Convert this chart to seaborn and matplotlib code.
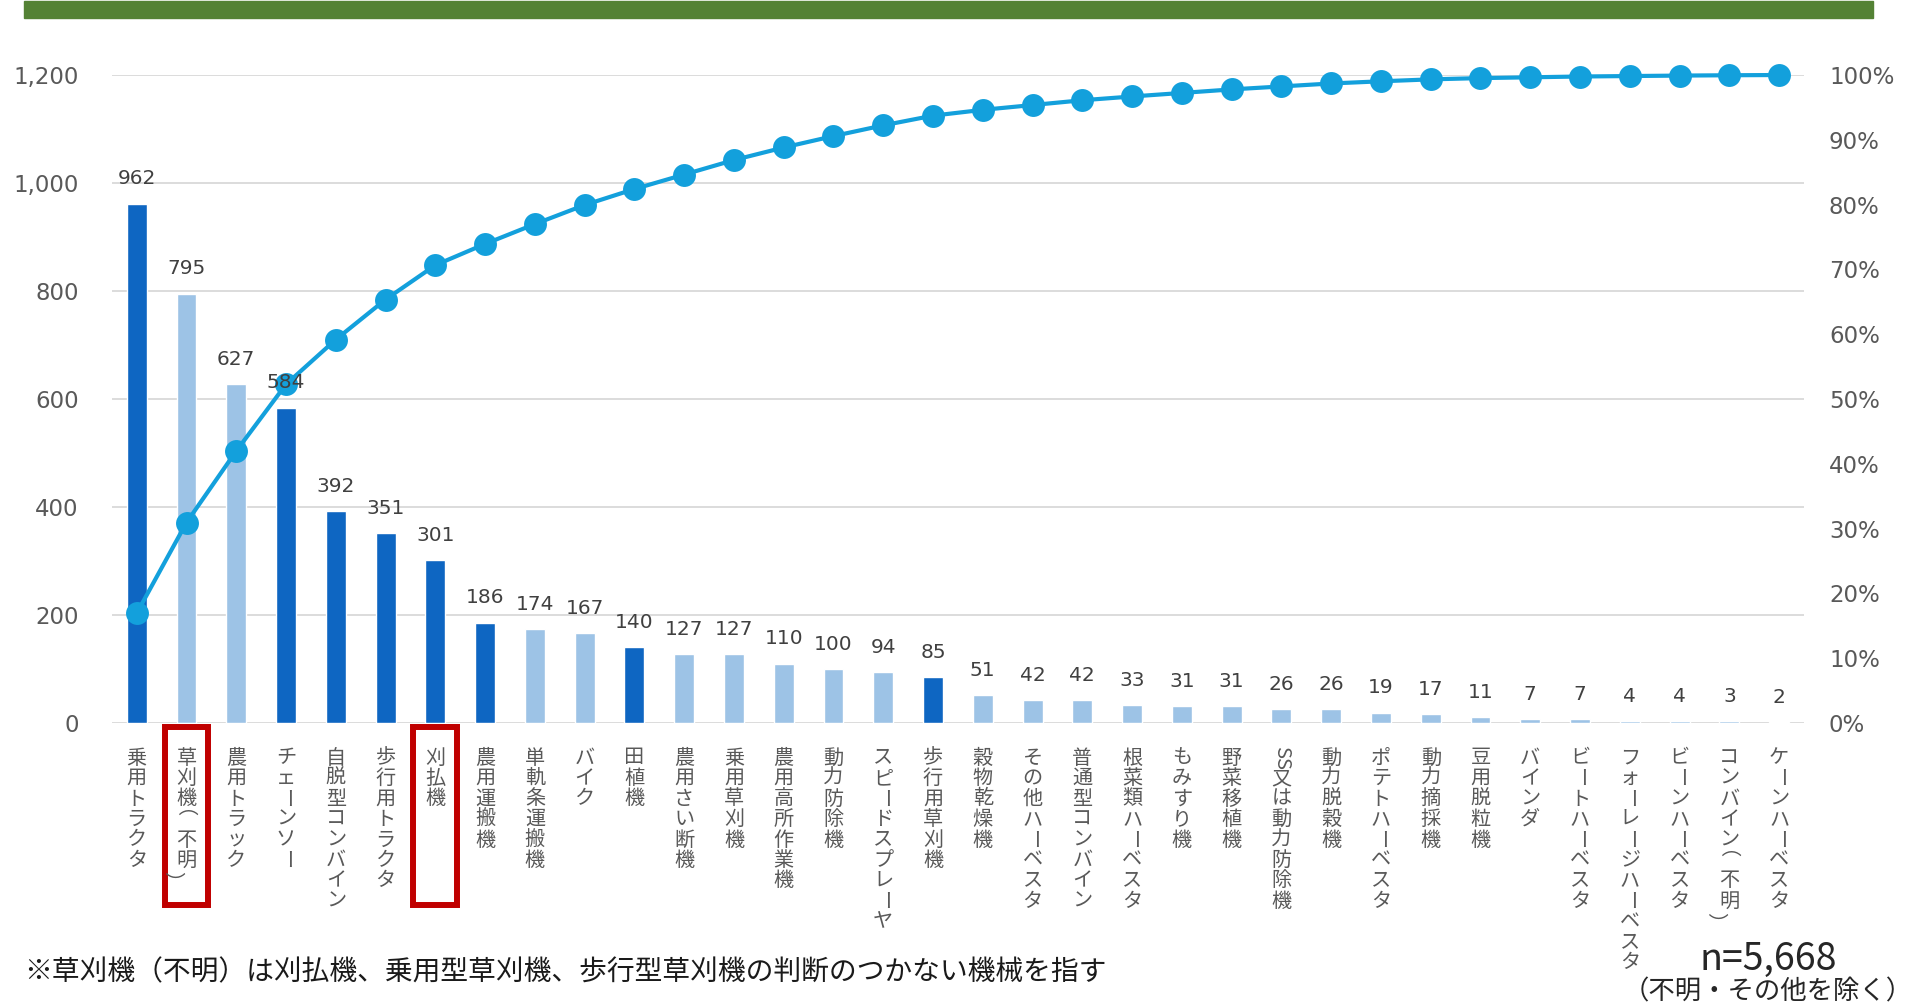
import numpy as np
import pandas as pd
import matplotlib
matplotlib.use('Agg')
import matplotlib.pyplot as plt
import matplotlib.transforms as mtransforms
from matplotlib.patches import Rectangle
import seaborn as sns

# Chart data
machines = ['乗用トラクタ', '草刈機（不明）', '農用トラック', 'チェーンソー', '自脱型コンバイン',
            '歩行用トラクタ', '刈払機', '農用運搬機', '単軌条運搬機', 'バイク', '田植機',
            '農用さい断機', '乗用草刈機', '農用高所作業機', '動力防除機', 'スピードスプレーヤ',
            '歩行用草刈機', '穀物乾燥機', 'その他ハーベスタ', '普通型コンバイン', '根菜類ハーベスタ',
            'もみすり機', '野菜移植機', 'SS又は動力防除機', '動力脱穀機', 'ポテトハーベスタ',
            '動力摘採機', '豆用脱粒機', 'バインダ', 'ビートハーベスタ', 'フォーレージハーベスタ',
            'ビーンハーベスタ', 'コンバイン（不明）', 'ケーンハーベスタ']
counts = [962, 795, 627, 584, 392, 351, 301, 186, 174, 167, 140, 127, 127, 110, 100, 94, 85,
          51, 42, 42, 33, 31, 31, 26, 26, 19, 17, 11, 7, 7, 4, 4, 3, 2]
dark_machines = ['乗用トラクタ', 'チェーンソー', '自脱型コンバイン', '歩行用トラクタ', '刈払機',
                 '農用運搬機', '田植機', '歩行用草刈機']
boxed_machines = ['草刈機（不明）', '刈払機']
count_ticks = [0, 200, 400, 600, 800, 1000, 1200]
pct_ticks = [0, 0.1, 0.2, 0.3, 0.4, 0.5, 0.6, 0.7, 0.8, 0.9, 1.0]
n_label = 'n=5,668'
n_note = '（不明・その他を除く）'
footnote = '※草刈機（不明）は刈払機、乗用型草刈機、歩行型草刈機の判断のつかない機械を指す'

sns.set_style('white')
plt.rcParams['font.family'] = ['DejaVu Sans', 'Noto Sans CJK JP']
JP = ['Noto Sans CJK JP', 'DejaVu Sans']

DARK = '#0E66C2'
LIGHT = '#9DC3E6'
LINE = '#13A0DC'
GRAY = '#595959'

df = pd.DataFrame({'machine': machines, 'count': counts})
df['pos'] = np.arange(len(df))
df['cum'] = df['count'].cumsum() / df['count'].sum()
palette = {m: (DARK if m in dark_machines else LIGHT) for m in machines}

fig = plt.figure(figsize=(19.12, 10.07), dpi=100)
ax = fig.add_axes([0.0585, 0.282, 0.8850, 0.6435])

sns.barplot(data=df, x='machine', y='count', hue='machine', palette=palette,
            legend=False, width=0.4, saturation=1, ax=ax)

ax2 = ax.twinx()
sns.lineplot(data=df, x='pos', y='cum', ax=ax2, color=LINE, linewidth=3,
             marker='o', markersize=16.5, markeredgewidth=0, clip_on=False)

ax.set_xlim(-0.5, len(machines) - 0.5)
ax.set_ylim(0, 1200)
ax2.set_ylim(0, 1)

# grid and spines
ax.yaxis.grid(True, color='#D9D9D9', linewidth=1.3)
ax.set_axisbelow(True)
for a in (ax, ax2):
    for s in a.spines.values():
        s.set_visible(False)
    a.set_xlabel('')
    a.set_ylabel('')

ax.set_yticks(count_ticks)
ax.set_yticklabels([f'{v:,}' for v in count_ticks])
ax.tick_params(axis='y', length=0, pad=24, labelsize=16.5, labelcolor=GRAY)
ax2.set_yticks(pct_ticks)
ax2.set_yticklabels([f'{int(round(p * 100))}%' for p in pct_ticks])
ax2.tick_params(axis='y', length=0, pad=18, labelsize=16.5, labelcolor=GRAY)
ax.set_xticks(df['pos'])
ax.set_xticklabels([])
ax.tick_params(axis='x', length=0)

# value labels above bars (drawn on the twin so they sit over the line)
for i, v in enumerate(counts):
    ax2.annotate(f'{v}', xy=(i, v), xycoords=ax.transData, xytext=(0, 11),
                 textcoords='offset points', ha='center', va='bottom',
                 fontsize=14.5, color='#404040')

# vertical (tategaki) category labels
trans = mtransforms.blended_transform_factory(ax.transData, fig.transFigure)
paren_trans = mtransforms.offset_copy(trans, fig=fig, x=-15, y=0, units='dots')


def split_vertical(name):
    out = []
    for ch in name:
        if ch.isascii() and out and out[-1].isascii():
            out[-1] += ch
        else:
            out.append(ch)
    return out


for i, name in enumerate(machines):
    for j, tok in enumerate(split_vertical(name)):
        rot = -90 if (tok.isascii() or tok in 'ー（）') else 0
        t = paren_trans if tok in '（）' else trans
        y = 1 - (758 + j * 20.5) / 1007
        fig.text(i, y, tok, transform=t, rotation=rot, ha='center', va='center',
                 fontsize=14.5, color=GRAY, family=JP)

# red boxes around highlighted labels
for name in boxed_machines:
    i = machines.index(name)
    fig.add_artist(Rectangle((i - 0.44, 1 - 905 / 1007), 0.88, (905 - 727) / 1007,
                             transform=trans, fill=False, edgecolor='#C00000',
                             linewidth=4.3, clip_on=False))

# green header bar
fig.add_artist(Rectangle((24 / 1912, 1 - 18 / 1007), (1873 - 24) / 1912, 17 / 1007,
                         transform=fig.transFigure, color='#548235'))

fig.text(24 / 1912, 1 - 972 / 1007, footnote, fontsize=20, family=JP,
         va='center', ha='left', color='#1A1A1A')
fig.text(1768 / 1912, 1 - 959 / 1007, n_label, fontsize=27, family=JP,
         va='center', ha='center', color='#262626')
fig.text(1768 / 1912, 1 - 992 / 1007, n_note, fontsize=19, family=JP,
         va='center', ha='center', color='#262626')

fig.savefig('out.png', dpi=100, facecolor='white')
